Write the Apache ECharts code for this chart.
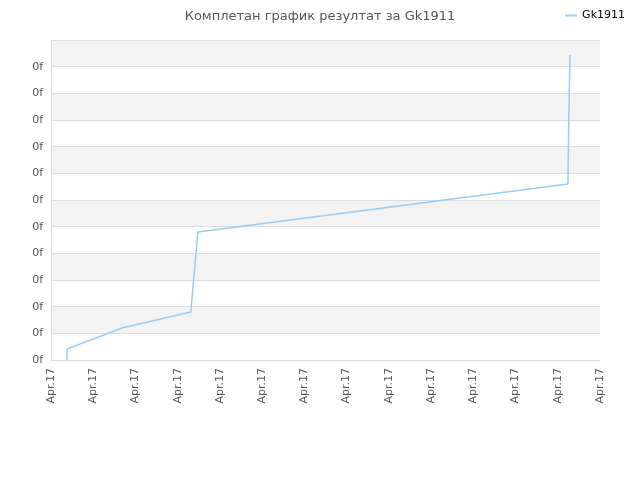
<!DOCTYPE html>
<html><head><meta charset="utf-8">
<script src="https://cdn.jsdelivr.net/npm/echarts@6/dist/echarts.min.js"></script>
</head><body style="margin:0">
<div id="c" style="width:640px;height:480px"></div>
<script>
const xLabels = Array(14).fill('Apr.17');
const yLabels = Array(12).fill('0f');
const seriesX = [0.38, 0.38, 1.68, 3.31, 3.48, 12.24, 12.26, 12.29];
const seriesY = [0, 0.41, 1.2, 1.8, 4.8, 6.6, 9.0, 11.44];
const chart = echarts.init(document.getElementById('c'));
chart.setOption({
  animation:false,
  title:{text:'Комплетан график резултат за Gk1911',left:'center',top:5,textStyle:{fontSize:13,fontWeight:'normal',color:'#555',fontFamily:'DejaVu Sans'}},
  legend:{right:10,top:5,itemWidth:12,itemHeight:2,icon:'rect',textStyle:{fontSize:11,color:'#000',fontFamily:'DejaVu Sans'},data:['Gk1911']},
  grid:{left:51,right:40,top:40,bottom:120},
  xAxis:{type:'value',min:0,max:13,interval:1,
    axisLine:{lineStyle:{color:'#ddd'}},axisTick:{show:false},splitLine:{show:false},
    axisLabel:{rotate:90,color:'#555',fontSize:11,fontFamily:'DejaVu Sans',formatter:(v)=>xLabels[v]}},
  yAxis:{type:'value',min:0,max:12,interval:1,
    axisLine:{show:true,lineStyle:{color:'#ddd'}},axisTick:{show:false},
    splitLine:{lineStyle:{color:'#ddd'}},
    splitArea:{show:true,areaStyle:{color:['#ffffff','#f3f3f3']}},
    axisLabel:{color:'#555',fontSize:11,fontFamily:'DejaVu Sans',formatter:(v)=>v<12?yLabels[v]:''}},
  series:[{name:'Gk1911',type:'line',symbol:'none',color:'#99ccf5',lineStyle:{width:1.5,color:'#99ccf5'},
    data:seriesX.map((x,i)=>[x,seriesY[i]])}]
});
</script></body></html>
